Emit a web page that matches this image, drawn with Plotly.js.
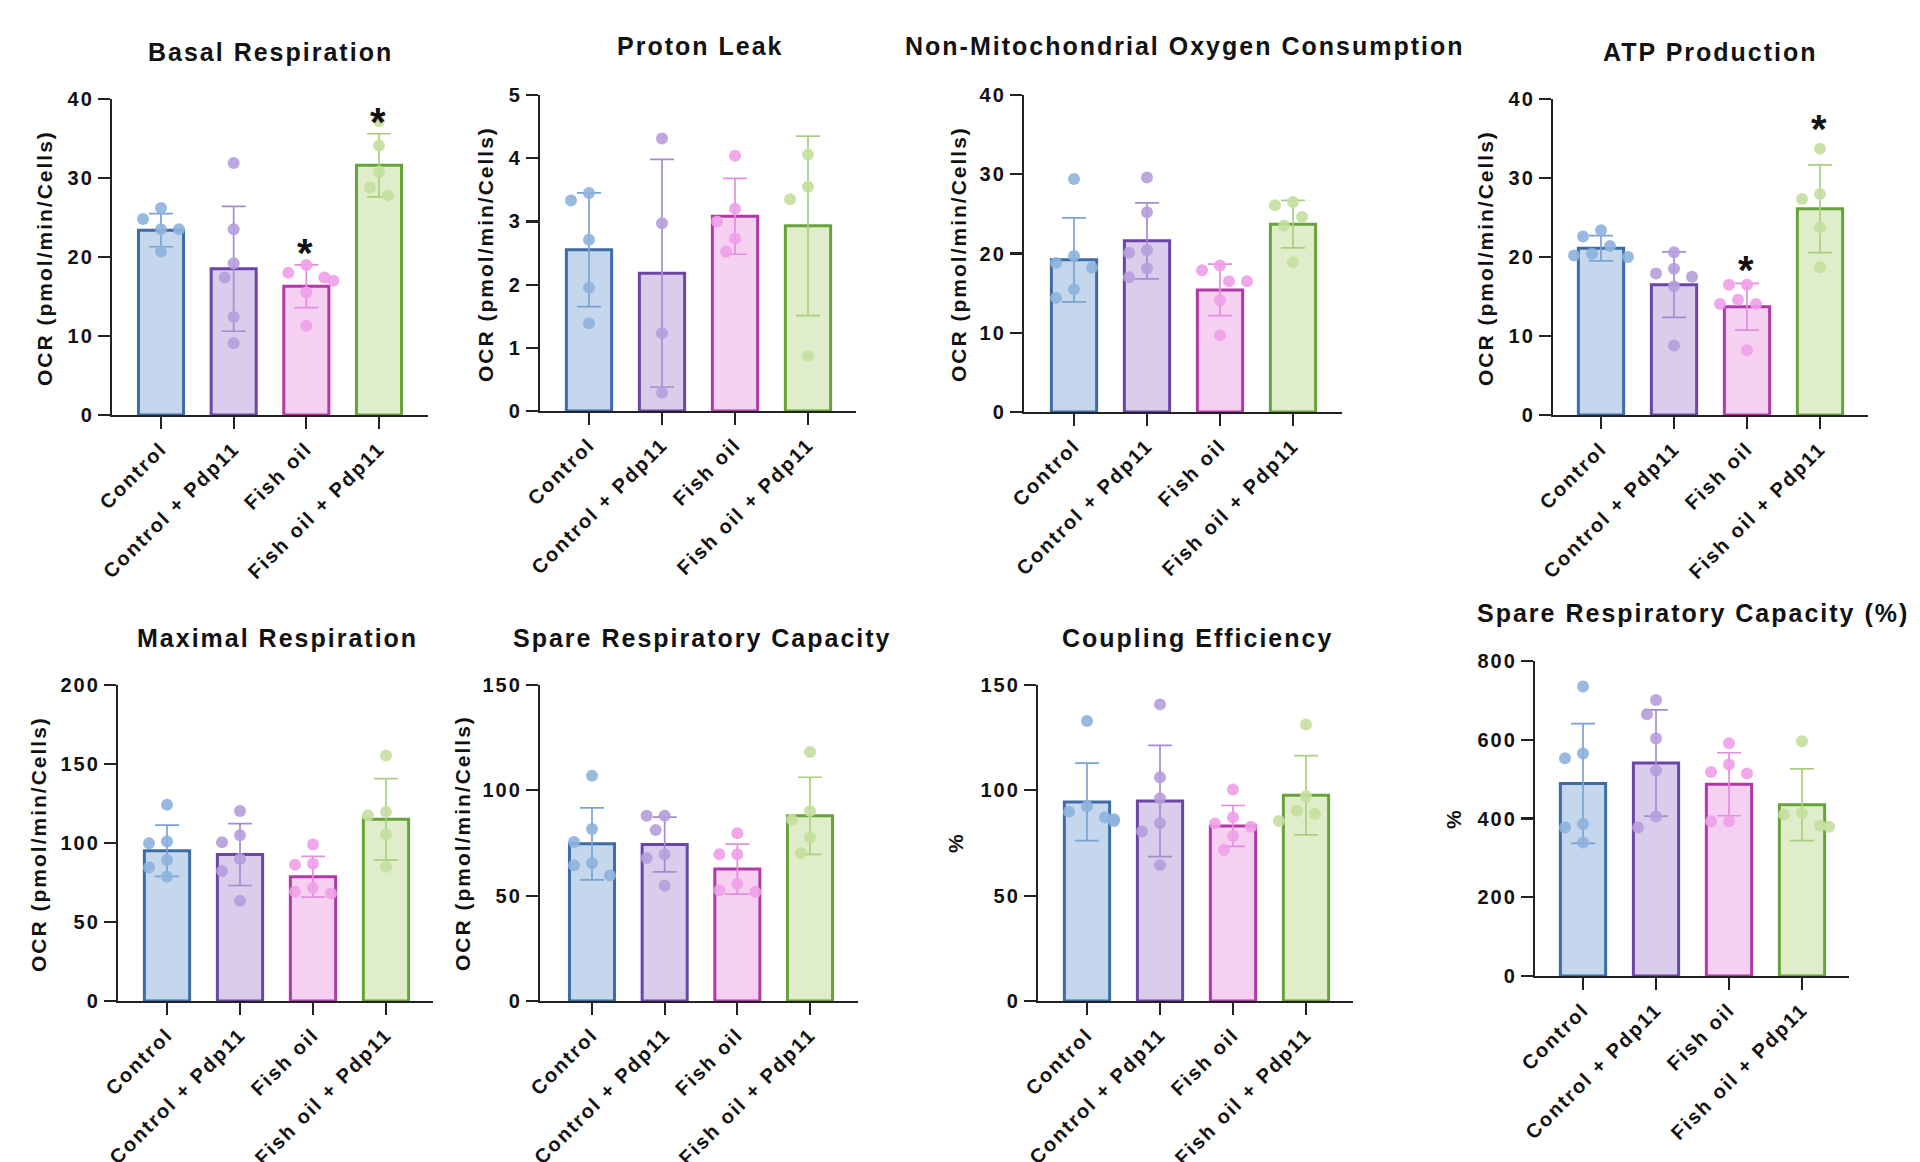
<!DOCTYPE html>
<html><head><meta charset="utf-8">
<script src="https://cdn.plot.ly/plotly-3.0.1.min.js"></script>
<style>
html,body{margin:0;padding:0;background:#fff}
#chart{width:1920px;height:1162px}
.main-svg text{letter-spacing:2px}
</style>
</head><body><div id="chart"></div>
<script>
// ---------- DATA ----------
const categories = ['Control', 'Control + Pdp11', 'Fish oil', 'Fish oil + Pdp11'];

const basalMean = [23.4, 18.5, 16.3, 31.6];
const basalSD   = [2.1, 7.9, 2.7, 4.0];
const basalPts  = [[26.2, 24.8, 23.5, 23.5, 20.7], [31.9, 23.5, 19.2, 17.4, 12.4, 9.1], [19.0, 18.0, 17.4, 17.0, 15.5, 11.3], [37.2, 34.1, 30.8, 28.8, 27.8]];
const basalSig  = ['', '', '*', '*'];
const basalSigY = [null, null, 21.9, 38.5];

const protonMean = [2.55, 2.18, 3.08, 2.93];
const protonSD   = [0.9, 1.8, 0.6, 1.42];
const protonPts  = [[3.45, 3.33, 2.71, 1.95, 1.39], [4.31, 2.97, 1.23, 0.29], [4.04, 3.2, 3.0, 2.73, 2.52], [4.06, 3.55, 3.35, 0.87]];

const nonMitoMean = [19.2, 21.6, 15.4, 23.7];
const nonMitoSD   = [5.3, 4.8, 3.25, 3.0];
const nonMitoPts  = [[29.4, 19.7, 18.8, 18.2, 15.5, 14.4], [29.6, 25.2, 20.4, 20.1, 18.1, 17.0], [18.5, 17.9, 16.5, 16.5, 14.1, 9.7], [26.5, 26.1, 24.6, 23.5, 18.9]];

const atpMean = [21.1, 16.5, 13.7, 26.1];
const atpSD   = [1.6, 4.15, 2.95, 5.55];
const atpPts  = [[23.4, 22.6, 21.4, 20.4, 20.2, 20.0], [20.6, 18.5, 17.9, 17.5, 16.3, 8.8], [16.5, 16.5, 14.6, 14.05, 14.05, 8.2], [33.7, 27.96, 27.35, 23.75, 18.7]];
const atpSig  = ['', '', '*', '*'];
const atpSigY = [null, null, 19.7, 37.6];

const maxMean = [95.1, 92.7, 78.6, 115.0];
const maxSD   = [16.2, 19.6, 12.9, 25.8];
const maxPts  = [[124.2, 100.9, 99.8, 89.2, 84.5, 78.6], [120.2, 104.9, 100.5, 89.9, 82.2, 63.4], [99.1, 86.9, 86.2, 71.6, 69.2, 68.1], [155.4, 119.7, 117.4, 105.6, 85.0]];

const spareMean = [74.6, 74.3, 62.6, 87.9];
const spareSD   = [17.1, 13.0, 11.9, 18.3];
const sparePts  = [[106.9, 81.7, 75.5, 65.5, 64.4, 59.6], [87.9, 87.9, 81.2, 69.7, 67.9, 54.7], [79.6, 69.7, 69.7, 55.6, 52.6, 51.7], [118.2, 90.2, 86.1, 77.6, 70.2]];

const couplingMean = [94.5, 94.9, 83.1, 97.7];
const couplingSD   = [18.4, 26.4, 9.7, 18.8];
const couplingPts  = [[132.9, 92.4, 89.8, 87.1, 86.3, 85.4], [140.8, 106.2, 96.3, 84.5, 80.5, 64.6], [100.4, 87.1, 84.2, 82.7, 78.3, 71.7], [131.2, 97.2, 90.3, 88.9, 85.4]];

const srcPctMean = [489, 541, 487, 435];
const srcPctSD   = [152, 135, 80, 91];
const srcPctPts  = [[735, 565, 553, 386, 377, 339], [701, 665, 603, 522, 405, 377], [591, 537, 518, 514, 393, 393], [596, 414, 410, 382, 379]];

// ---------- STYLE ----------
const FONT = 'Liberation Sans, Arial, Helvetica, sans-serif';
const fills   = ['#c5d7ed', '#d9cdeb', '#f5d0f1', '#e0edcb'];
const borders = ['#3d6ca6', '#6b46a6', '#b13aa8', '#68a23a'];
const dots    = ['#8db2dd', '#b59ddb', '#ef9fe9', '#c4df9d'];
const errCols = ['#7aa2d4', '#a58bd2', '#e48ddd', '#a9cf7e'];
const W = 1920, H = 1162;

// panel definitions (geometry in pixels)
const panels = [
  {title:'Basal Respiration', mean:basalMean, sd:basalSD, pts:basalPts, sig:basalSig, sigY:basalSigY, ymax:40, dtick:10, ytitle:'OCR (pmol/min/Cells)',
   g:{ax:112, xe:428, yt:99, yb:415, b0:161, b3:379}, tp:[270,52], yp:[44,258]},
  {title:'Proton Leak', mean:protonMean, sd:protonSD, pts:protonPts, ymax:5, dtick:1, ytitle:'OCR (pmol/min/Cells)',
   g:{ax:540, xe:856, yt:95, yb:411, b0:589, b3:808}, tp:[700,46], yp:[485,254]},
  {title:'Non-Mitochondrial Oxygen Consumption', mean:nonMitoMean, sd:nonMitoSD, pts:nonMitoPts, ymax:40, dtick:10, ytitle:'OCR (pmol/min/Cells)',
   g:{ax:1024, xe:1342, yt:95, yb:412, b0:1074, b3:1293}, tp:[1184,46], yp:[958,254]},
  {title:'ATP Production', mean:atpMean, sd:atpSD, pts:atpPts, sig:atpSig, sigY:atpSigY, ymax:40, dtick:10, ytitle:'OCR (pmol/min/Cells)',
   g:{ax:1553, xe:1868, yt:99, yb:415, b0:1601, b3:1820}, tp:[1710,52], yp:[1485,258]},
  {title:'Maximal Respiration', mean:maxMean, sd:maxSD, pts:maxPts, ymax:200, dtick:50, ytitle:'OCR (pmol/min/Cells)',
   g:{ax:118, xe:433, yt:685, yb:1001, b0:167, b3:386}, tp:[277,638], yp:[38,844]},
  {title:'Spare Respiratory Capacity', mean:spareMean, sd:spareSD, pts:sparePts, ymax:150, dtick:50, ytitle:'OCR (pmol/min/Cells)',
   g:{ax:540, xe:858, yt:685, yb:1001, b0:592, b3:810}, tp:[702,638], yp:[462,843]},
  {title:'Coupling Efficiency', mean:couplingMean, sd:couplingSD, pts:couplingPts, ymax:150, dtick:50, ytitle:'%',
   g:{ax:1038, xe:1353, yt:685, yb:1001, b0:1087, b3:1306}, tp:[1197,638], yp:[955,843]},
  {title:'Spare Respiratory Capacity (%)', mean:srcPctMean, sd:srcPctSD, pts:srcPctPts, ymax:800, dtick:200, ytitle:'%',
   g:{ax:1535, xe:1849, yt:661, yb:976, b0:1583, b3:1802}, tp:[1693,613], yp:[1453,819]}
];

// simple beeswarm: horizontal pixel offsets for points that would overlap
function swarm(vals, pxPerUnit, pxPerCat) {
  const D = 16, cands = [0, -9, 9, -18, 18, -27, 27];
  const placed = [], offs = [];
  vals.forEach(v => {
    const y = v * pxPerUnit;
    let chosen = cands[cands.length - 1];
    for (const c of cands) {
      if (placed.every(p => Math.hypot(p.x - c, p.y - y) >= D)) { chosen = c; break; }
    }
    placed.push({x: chosen, y: y});
    offs.push(chosen / pxPerCat);
  });
  return offs;
}

const traces = [], annotations = [];
const layout = {
  width: W, height: H, margin: {l:0, r:0, t:0, b:0},
  paper_bgcolor: '#fff', plot_bgcolor: 'rgba(0,0,0,0)',
  showlegend: false, barmode: 'overlay',
  font: {family: FONT, color: '#111'}
};
const catIdx = categories.map((c, i) => i);

panels.forEach((p, k) => {
  const s = k === 0 ? '' : String(k + 1);
  const g = p.g;
  const sp = (g.b3 - g.b0) / 3;
  const pxPerUnit = (g.yb - g.yt) / p.ymax;
  const ticks = [];
  for (let v = 0; v <= p.ymax + 1e-9; v += p.dtick) ticks.push(v);

  layout['xaxis' + s] = {
    domain: [g.ax / W, g.xe / W], anchor: 'y' + s,
    range: [(g.ax - g.b0) / sp, (g.xe - g.b0) / sp],
    tickmode: 'array', tickvals: catIdx, ticktext: categories, tickangle: -45,
    ticks: 'outside', ticklen: 12, tickwidth: 2.2, tickcolor: '#222',
    showline: true, linewidth: 2.2, linecolor: '#222',
    showgrid: false, zeroline: false, fixedrange: true,
    tickfont: {family: FONT, size: 20, weight: 700, color: '#111'}
  };
  layout['yaxis' + s] = {
    domain: [1 - g.yb / H, 1 - g.yt / H], anchor: 'x' + s,
    range: [0, p.ymax], tickmode: 'array', tickvals: ticks,
    ticks: 'outside', ticklen: 12, tickwidth: 2.2, tickcolor: '#222',
    showline: true, linewidth: 2.2, linecolor: '#222',
    showgrid: false, zeroline: false, fixedrange: true, ticklabelstandoff: 0,
    tickfont: {family: FONT, size: 20, weight: 700, color: '#111'}
  };

  categories.forEach((c, i) => {
    traces.push({
      type: 'bar', x: [i], y: [p.mean[i]], width: 0.62,
      xaxis: 'x' + s, yaxis: 'y' + s, hoverinfo: 'skip',
      marker: {color: fills[i], line: {color: borders[i], width: 3}},
      error_y: {type: 'data', array: [p.sd[i]], visible: true, color: errCols[i], thickness: 1.7, width: 12}
    });
  });
  categories.forEach((c, i) => {
    const offs = swarm(p.pts[i], pxPerUnit, sp);
    traces.push({
      type: 'scatter', mode: 'markers',
      x: p.pts[i].map((v, j) => i + offs[j]), y: p.pts[i],
      xaxis: 'x' + s, yaxis: 'y' + s, hoverinfo: 'skip', cliponaxis: false,
      marker: {size: 12, color: dots[i], opacity: 0.9, line: {width: 0}}
    });
  });

  annotations.push({
    xref: 'paper', yref: 'paper', x: p.tp[0] / W, y: 1 - p.tp[1] / H,
    xanchor: 'center', yanchor: 'middle', showarrow: false, text: p.title,
    font: {family: FONT, size: 25, weight: 700, color: '#111'}
  });
  annotations.push({
    xref: 'paper', yref: 'paper', x: p.yp[0] / W, y: 1 - p.yp[1] / H,
    xanchor: 'center', yanchor: 'middle', showarrow: false, text: p.ytitle, textangle: -90,
    font: {family: FONT, size: 21, weight: 700, color: '#111'}
  });
  if (p.sig) {
    p.sig.forEach((t, i) => {
      if (!t) return;
      annotations.push({
        xref: 'x' + s, yref: 'y' + s, x: i, y: p.sigY[i],
        xanchor: 'center', yanchor: 'middle', showarrow: false, text: t, yshift: -11,
        font: {family: FONT, size: 40, weight: 700, color: '#111'}
      });
    });
  }
});
layout.annotations = annotations;

Plotly.newPlot('chart', traces, layout, {staticPlot: true});
</script></body></html>
